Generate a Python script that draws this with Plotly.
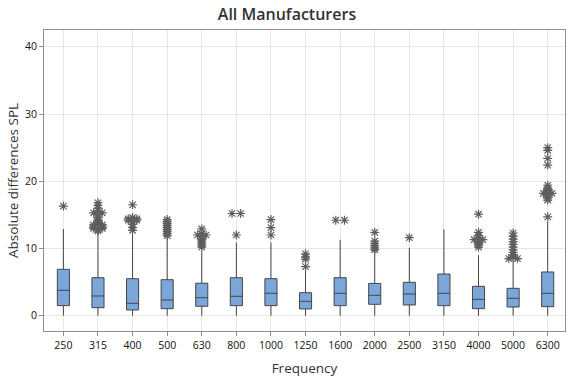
import plotly.graph_objects as go
from collections import Counter

categories = ["250", "315", "400", "500", "630", "800", "1000", "1250",
              "1600", "2000", "2500", "3150", "4000", "5000", "6300"]

q1 = [1.49, 1.19, 0.85, 1.04, 1.40, 1.49, 1.49, 1.00, 1.49, 1.69, 1.59, 1.49, 1.04, 1.29, 1.34]
median = [3.78, 2.93, 1.84, 2.33, 2.68, 2.88, 3.33, 2.14, 3.33, 3.03, 3.23, 3.33, 2.43, 2.58, 3.33]
q3 = [6.90, 5.65, 5.50, 5.35, 4.83, 5.65, 5.50, 3.42, 5.65, 4.80, 4.96, 6.20, 4.37, 4.07, 6.50]
lower = [0, 0, 0, 0, 0, 0, 0, 0, 0, 0, 0, 0, 0, 0, 0]
upper = [12.9, 12.3, 12.2, 11.4, 9.6, 10.9, 10.9, 6.9, 11.3, 9.6, 10.1, 12.85, 9.0, 8.2, 14.0]

outliers = {
    "250": [16.3],
    "315": [12.6, 12.8, 13.0, 13.0, 13.2, 13.2, 13.5, 13.5, 13.8, 14.0, 14.3, 14.6,
            15.0, 15.3, 15.3, 15.6, 16.0, 16.4, 16.8],
    "400": [12.7, 13.1, 13.6, 14.0, 14.2, 14.2, 14.4, 14.4, 14.6, 16.5],
    "500": [11.9, 12.2, 12.5, 12.8, 13.1, 13.4, 13.7, 14.0, 14.3],
    "630": [10.2, 10.5, 10.8, 11.1, 11.4, 11.7, 12.0, 12.0, 12.2, 12.9],
    "800": [12.0, 15.2, 15.2],
    "1000": [12.0, 13.1, 14.3],
    "1250": [7.3, 8.4, 8.7, 9.2],
    "1600": [14.2, 14.2],
    "2000": [9.8, 10.1, 10.4, 10.7, 11.1, 12.4],
    "2500": [11.6],
    "3150": [],
    "4000": [10.2, 10.5, 10.8, 11.0, 11.3, 11.3, 11.6, 11.9, 12.4, 15.1],
    "5000": [8.5, 8.5, 8.7, 9.0, 9.4, 9.8, 10.2, 10.6, 11.0, 11.4, 11.8, 12.3],
    "6300": [14.7, 17.2, 17.5, 17.8, 18.0, 18.2, 18.2, 18.4, 18.6, 18.8, 19.0, 19.4,
             22.4, 23.4, 24.6, 25.0],
}

positions = list(range(len(categories)))
line_col = "#454545"
box_fill = "#7BA6DA"

fig = go.Figure()
fig.add_trace(go.Box(
    x=positions, q1=q1, median=median, q3=q3,
    lowerfence=lower, upperfence=upper,
    width=0.35, whiskerwidth=0, boxpoints=False,
    fillcolor=box_fill, line=dict(color=line_col, width=1),
    showlegend=False,
))

ox, oy = [], []
for i, cat in enumerate(categories):
    vals = outliers[cat]
    counts = Counter(vals)
    seen = Counter()
    for v in vals:
        n = counts[v]
        k = seen[v]
        seen[v] += 1
        ox.append(i + (k - (n - 1) / 2) * 0.25)
        oy.append(v)

fig.add_trace(go.Scatter(
    x=ox, y=oy, mode="markers", showlegend=False,
    marker=dict(symbol="asterisk-open", size=7.5,
                line=dict(color="#5e5e5e", width=1.2), color="#5e5e5e"),
))

font_family = "Open Sans, Noto Sans, sans-serif"
fig.update_layout(
    width=574, height=380,
    margin=dict(l=44, r=9, t=30, b=49),
    paper_bgcolor="white", plot_bgcolor="white",
    font=dict(family=font_family, color="#222222"),
    title=dict(text="All Manufacturers", x=0.5, xanchor="center",
               y=1 - 14 / 380, yanchor="middle",
               font=dict(size=16, color="#333333", weight=600)),
)
fig.update_xaxes(
    range=[-0.56, 14.5], tickmode="array", tickvals=positions, ticktext=categories,
    showgrid=True, gridcolor="#e6e6e6", gridwidth=1, zeroline=False,
    showline=True, linecolor="#8f8f8f", linewidth=1, mirror=True,
    ticks="outside", ticklen=4, tickcolor="#8f8f8f", automargin=False,
    tickfont=dict(size=10.5, color="#111111"),
    title=dict(text="Frequency", font=dict(size=13.5, color="#333333"), standoff=12),
)
fig.update_yaxes(
    range=[-2.28, 42.5], tickvals=[0, 10, 20, 30, 40],
    showgrid=True, gridcolor="#e6e6e6", gridwidth=1, zeroline=False,
    showline=True, linecolor="#8f8f8f", linewidth=1, mirror=True,
    ticks="outside", ticklen=4, tickcolor="#8f8f8f", automargin=False,
    tickfont=dict(size=10.5, color="#111111"),
    title=dict(text="Absolute differences SPL", font=dict(size=13.5, color="#333333"), standoff=3),
)

fig.write_html("out.html", config={"displayModeBar": False},
               post_script="document.body.style.margin='0';document.body.style.overflow='hidden';")
